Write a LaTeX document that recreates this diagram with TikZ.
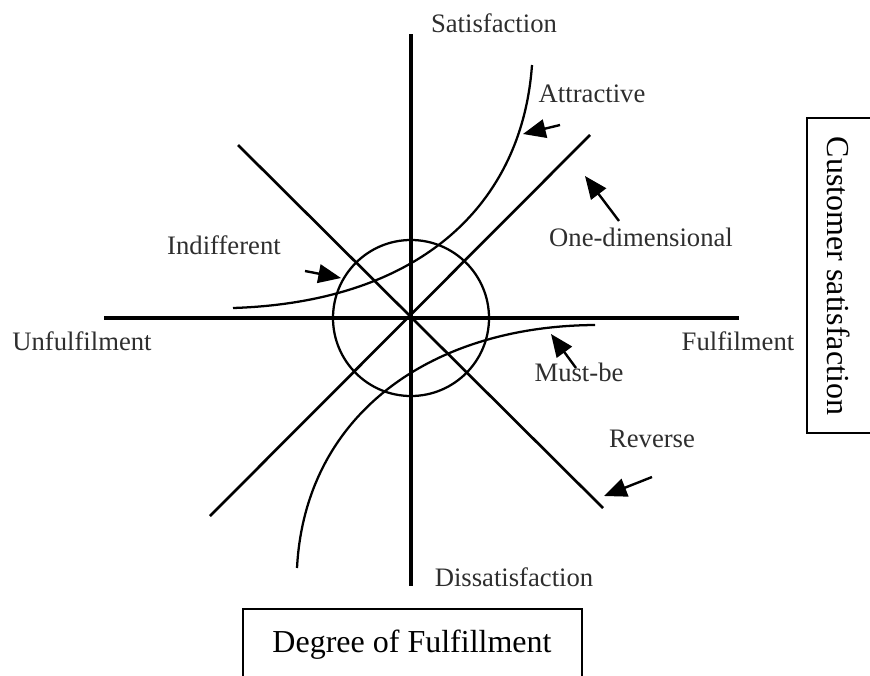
\documentclass[tikz,border=0pt]{standalone}
\usepackage{fontspec}
\setmainfont{Liberation Serif}
\usetikzlibrary{arrows.meta}
\begin{document}
\begin{tikzpicture}[x=0.75pt,y=-0.75pt,
  axis/.style={line width=2.5pt,black},
  diag/.style={line width=2pt,black},
  curve/.style={line width=1.7pt,black},
  pointer/.style={line width=1.8pt,-{Triangle[length=17pt,width=14pt]}},
  lbl/.style={font=\fontsize{20}{24}\selectfont,text=black!82,inner sep=0pt,anchor=base},
  boxlbl/.style={font=\fontsize{24}{28}\selectfont,text=black,inner sep=0pt},
  frame/.style={line width=1.5pt,black}]
\useasboundingbox (0,0) rectangle (870,675);
% axes
\coordinate (O) at (411,318);
\coordinate (vt) at (411,34);
\coordinate (vb) at (411,586);
\coordinate (hl) at (104,318);
\coordinate (hr) at (739,318);
\draw[axis] (vt) -- (vb);
\draw[axis] (hl) -- (hr);
% circle
\draw[curve] (O) circle[radius=58.5pt];
% diagonals
\coordinate (d1a) at (210,516);
\coordinate (d1b) at (590,135);
\coordinate (d2a) at (238,145);
\coordinate (d2b) at (603,508);
\draw[diag] (d1a) -- (d1b);
\draw[diag] (d2a) -- (d2b);
% attractive curve
\coordinate (aa) at (233,308);
\coordinate (ab) at (532,65);
\draw[curve] (aa) .. controls (420,302) and (522,205) .. (ab);
% must-be curve
\coordinate (ma) at (595,325);
\coordinate (mb) at (297,568);
\draw[curve] (ma) .. controls (430,326) and (305,415) .. (mb);
% pointers
\coordinate (p1s) at (560,125); \coordinate (p1e) at (523,134);
\coordinate (p2s) at (619,221); \coordinate (p2e) at (585,176);
\coordinate (p3s) at (305,271); \coordinate (p3e) at (341,278);
\coordinate (p4s) at (576,368); \coordinate (p4e) at (551,334);
\coordinate (p5s) at (652,477); \coordinate (p5e) at (604,496);
\draw[pointer] (p1s) -- (p1e);
\draw[pointer] (p2s) -- (p2e);
\draw[pointer] (p3s) -- (p3e);
\draw[pointer] (p4s) -- (p4e);
\draw[pointer] (p5s) -- (p5e);
% labels
\node[lbl] (sat) at (494,32) {Satisfaction};
\node[lbl] (att) at (592,102) {Attractive};
\node[lbl] (one) at (641,246) {One-dimensional};
\node[lbl] (ind) at (224,254) {Indifferent};
\node[lbl] (unf) at (82,350) {Unfulfilment};
\node[lbl] (ful) at (738,350) {Fulfilment};
\node[lbl] (mus) at (579,381) {Must-be};
\node[lbl] (rev) at (652,447) {Reverse};
\node[lbl] (dis) at (514,586) {Dissatisfaction};
% boxes
\draw[frame] (872,118) -- (807,118) -- (807,433) -- (872,433);
\node[boxlbl,rotate=-90] (cs) at (839,276) {Customer satisfaction};
\draw[frame] (243,677) -- (243,609) -- (582,609) -- (582,677);
\node[boxlbl,anchor=base] (dof) at (412,652) {Degree of Fulfillment};
\end{tikzpicture}
\end{document}
